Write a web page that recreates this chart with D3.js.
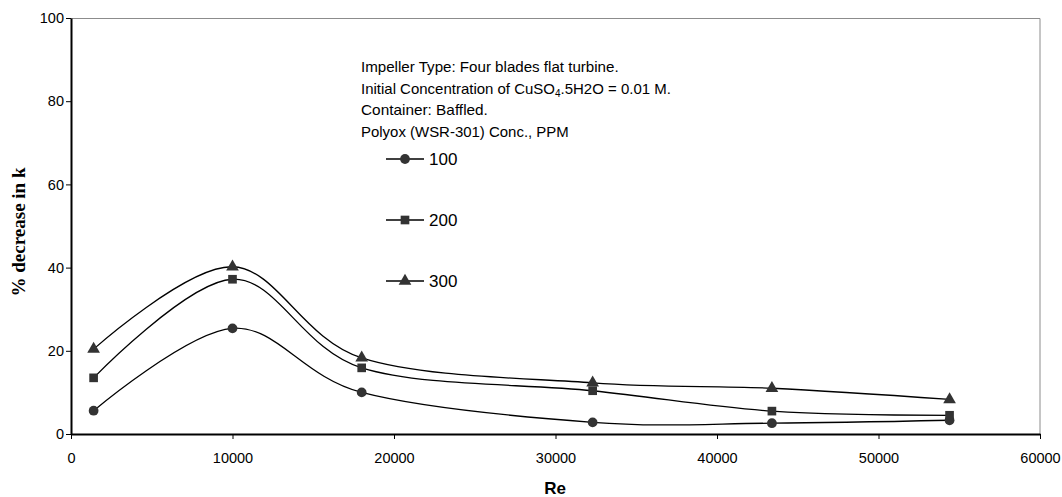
<!DOCTYPE html>
<html>
<head>
<meta charset="utf-8">
<script src="https://cdn.jsdelivr.net/npm/d3@7"></script>
<style>
  body { margin: 0; background: #fff; }
  text { font-family: Arial, "Liberation Sans", sans-serif; }
</style>
</head>
<body>
<div id="chart"></div>
<script>
// data
var reValues = [1400, 10000, 18000, 32300, 43400, 54400];
var conc100 = [5.6, 25.4, 10.0, 2.8, 2.6, 3.3];
var conc200 = [13.5, 37.2, 15.9, 10.4, 5.5, 4.5];
var conc300 = [20.4, 40.2, 18.3, 12.3, 11.0, 8.3];
var seriesNames = ["100", "200", "300"];
var xTicks = [0, 10000, 20000, 30000, 40000, 50000, 60000];
var yTicks = [0, 20, 40, 60, 80, 100];
var noteLines = [
  "Impeller Type: Four blades flat turbine.",
  "Initial Concentration of CuSO4.5H2O = 0.01 M.",
  "Container: Baffled.",
  "Polyox (WSR-301) Conc., PPM"
];

var margin = { top: 18, right: 22, bottom: 63, left: 71 };
var width = 1062, height = 497;
var w = width - margin.left - margin.right;
var h = height - margin.top - margin.bottom;

var svg = d3.select("#chart")
    .append("svg")
    .attr("width", width)
    .attr("height", height)
    .append("g")
    .attr("transform", "translate(" + margin.left + "," + margin.top + ")");

var x = d3.scaleLinear().domain([0, 60000]).range([0, w]);
var y = d3.scaleLinear().domain([0, 100]).range([h, 0]);

// frame top & right (grey)
svg.append("path")
    .attr("d", "M0,0.5H" + w + "V" + h)
    .attr("fill", "none")
    .attr("stroke", "#8c8c8c")
    .attr("stroke-width", 1);

// axes
var xAxis = svg.append("g")
    .attr("transform", "translate(0," + h + ")")
    .call(d3.axisBottom(x).tickValues(xTicks).tickSize(5).tickSizeOuter(0).tickFormat(d3.format("d")));
var yAxis = svg.append("g")
    .call(d3.axisLeft(y).tickValues(yTicks).tickSize(5).tickSizeOuter(0));

[xAxis, yAxis].forEach(function (a) {
    a.select(".domain").attr("stroke", "#000").attr("stroke-width", 2);
    a.selectAll(".tick line").attr("stroke", "#000");
    a.selectAll(".tick text").style("font-size", "14.5px").attr("fill", "#000");
});
xAxis.selectAll(".tick text").attr("dy", "1.45em");
yAxis.selectAll(".tick text").attr("x", -7);

// axis titles
svg.append("text")
    .attr("x", 484)
    .attr("y", h + 60)
    .attr("text-anchor", "middle")
    .style("font-weight", "bold")
    .style("font-size", "17px")
    .text("Re");

svg.append("text")
    .attr("transform", "translate(" + (-46) + "," + 214 + ") rotate(-90)")
    .attr("text-anchor", "middle")
    .style("font-family", "'Liberation Serif', 'Times New Roman', serif")
    .style("font-weight", "bold")
    .style("font-size", "19px")
    .attr("textLength", 129)
    .attr("lengthAdjust", "spacingAndGlyphs")
    .text("% decrease in k");

// lines
var allSeries = [conc100, conc200, conc300];
var line = d3.line()
    .x(function (d, i) { return x(reValues[i]); })
    .y(function (d) { return y(d); })
    .curve(d3.curveCardinal.tension(0));

allSeries.forEach(function (s) {
    svg.append("path")
        .datum(s)
        .attr("d", line)
        .attr("fill", "none")
        .attr("stroke", "#000")
        .attr("stroke-width", 1.3);
});

var symbols = [d3.symbolCircle, d3.symbolSquare, d3.symbolTriangle];
var symSizes = [75, 75, 70];
var markerColor = "#333";

allSeries.forEach(function (s, k) {
    svg.selectAll(".m" + k)
        .data(s)
        .enter()
        .append("path")
        .attr("class", "m" + k)
        .attr("transform", function (d, i) { return "translate(" + x(reValues[i]) + "," + y(d) + ")"; })
        .attr("d", d3.symbol().type(symbols[k]).size(symSizes[k]))
        .attr("fill", markerColor);
});

// notes (each line squeezed horizontally to the original's width)
var noteWidths = [258, 310, 127, 208];
noteLines.forEach(function (t, i) {
    var g = svg.append("g");
    var tx = g.append("text")
        .attr("x", 0)
        .attr("y", 0)
        .style("font-size", "15px")
        .attr("fill", "#000");
    if (i === 1) {
        tx.append("tspan").text("Initial Concentration of CuSO");
        tx.append("tspan").attr("dy", 3).style("font-size", "10px").text("4");
        tx.append("tspan").attr("dy", -3).text(".5H2O = 0.01 M.");
    } else {
        tx.text(t);
    }
    var len = tx.node().getBBox().width;
    g.attr("transform", "translate(290," + (54 + i * 21.5) + ") scale(" + (noteWidths[i] / len) + ",1)");
});

// legend
var legend = svg.selectAll(".legend")
    .data(seriesNames)
    .enter().append("g")
    .attr("class", "legend")
    .attr("transform", function (d, i) { return "translate(315," + (141 + i * 61) + ")"; });

legend.append("line")
    .attr("x1", 0).attr("x2", 38)
    .attr("stroke", "#000").attr("stroke-width", 1.3);
legend.append("path")
    .attr("transform", "translate(19,0)")
    .attr("d", function (d, i) { return d3.symbol().type(symbols[i]).size(symSizes[i])(); })
    .attr("fill", markerColor);
legend.append("text")
    .attr("x", 43)
    .attr("dy", "0.36em")
    .style("font-size", "17px")
    .text(function (d) { return d; });
</script>
</body>
</html>
